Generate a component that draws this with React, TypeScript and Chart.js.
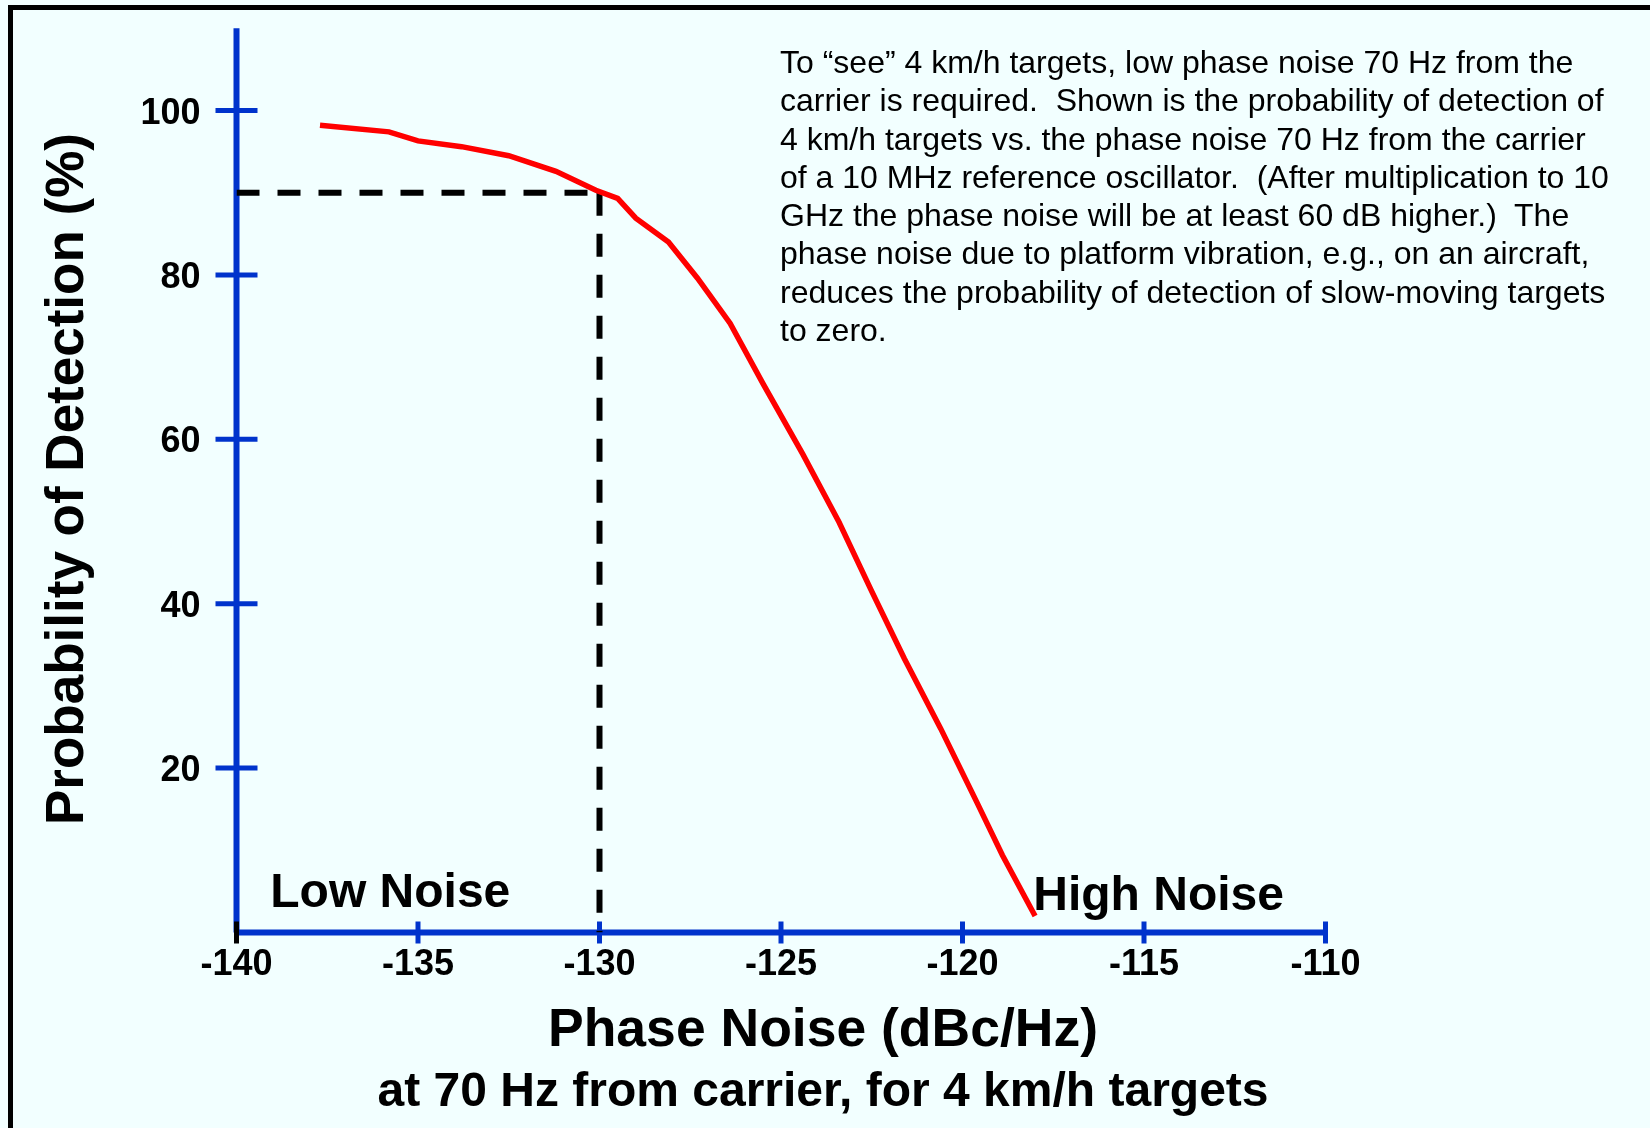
import React, { useEffect, useRef } from "react";
import { Chart, registerables } from "chart.js";

Chart.register(...registerables);

// ---- data ----
const phaseNoise = [-137.7, -135.8, -135.0, -133.8, -132.5, -131.2, -130.1, -129.5, -129.0, -128.1, -127.3, -126.4, -125.5, -124.4, -123.4, -122.5, -121.6, -120.6, -119.6, -118.9, -118.0];
const probDetection = [98.2, 97.4, 96.3, 95.6, 94.5, 92.6, 90.3, 89.3, 86.9, 84.0, 79.6, 74.1, 66.8, 58.2, 49.9, 41.5, 33.3, 24.8, 15.8, 9.4, 2.0];
const thresholdX = -130;
const thresholdY = 90;
const xTicks = [-140, -135, -130, -125, -120, -115, -110];
const yTicks = [20, 40, 60, 80, 100];
const X_MIN = -140;
const X_MAX = -110;
const Y_MIN = 0;
const Y_MAX = 110;

const xTitle = "Phase Noise (dBc/Hz)";
const xSubtitle = "at 70 Hz from carrier, for 4 km/h targets";
const yTitle = "Probability of Detection (%)";
const lowLabel = "Low Noise";
const highLabel = "High Noise";
const noteLines = [
  "To \u201csee\u201d 4 km/h targets, low phase noise 70 Hz from the",
  "carrier is required.  Shown is the probability of detection of",
  "4 km/h targets vs. the phase noise 70 Hz from the carrier",
  "of a 10 MHz reference oscillator.  (After multiplication to 10",
  "GHz the phase noise will be at least 60 dB higher.)  The",
  "phase noise due to platform vibration, e.g., on an aircraft,",
  "reduces the probability of detection of slow-moving targets",
  "to zero.",
];

const BLUE = "#0033cc";
const RED = "#ff0000";
const BG = "#f2ffff";
const FONT = '"Liberation Sans", Arial, Helvetica, sans-serif';

const axesPlugin = {
  id: "customAxes",
  beforeDatasetsDraw(chart: any) {
    const { ctx, scales } = chart;
    const x = scales.x;
    const y = scales.y;
    const x0 = x.getPixelForValue(X_MIN);
    const x1 = x.getPixelForValue(X_MAX);
    const y0 = y.getPixelForValue(Y_MIN);
    const yTop = y.getPixelForValue(Y_MAX);
    ctx.save();
    ctx.lineCap = "butt";
    ctx.strokeStyle = BLUE;
    ctx.lineWidth = 6;
    ctx.beginPath();
    ctx.moveTo(x0, yTop);
    ctx.lineTo(x0, y0);
    ctx.stroke();
    ctx.beginPath();
    ctx.moveTo(x0, y0);
    ctx.lineTo(x1 + 2.5, y0);
    ctx.stroke();

    ctx.lineWidth = 5;
    yTicks.forEach((v) => {
      const py = y.getPixelForValue(v);
      ctx.beginPath();
      ctx.moveTo(x0 - 21, py);
      ctx.lineTo(x0 + 21, py);
      ctx.stroke();
    });
    xTicks.forEach((v) => {
      const px = x.getPixelForValue(v);
      ctx.strokeStyle = v === X_MIN ? "#000000" : BLUE;
      ctx.beginPath();
      ctx.moveTo(px, y0 - 11);
      ctx.lineTo(px, y0 + 11);
      ctx.stroke();
    });

    ctx.fillStyle = "#000000";
    ctx.font = `bold 36px ${FONT}`;
    ctx.textAlign = "right";
    ctx.textBaseline = "alphabetic";
    yTicks.forEach((v) => {
      const py = y.getPixelForValue(v);
      ctx.fillText(String(v), x0 - 36, py + 13);
    });
    ctx.textAlign = "center";
    xTicks.forEach((v) => {
      const px = x.getPixelForValue(v);
      ctx.fillText(String(v), px, y0 + 42.5);
    });
    ctx.restore();
  },
  afterDraw(chart: any) {
    const { ctx, scales } = chart;
    const x = scales.x;
    const y = scales.y;
    ctx.save();
    ctx.fillStyle = "#000000";
    ctx.textBaseline = "alphabetic";

    ctx.font = `bold 48px ${FONT}`;
    ctx.textAlign = "left";
    ctx.fillText(lowLabel, x.getPixelForValue(-139.07), y.getPixelForValue(3.1));
    ctx.fillText(highLabel, x.getPixelForValue(-118.05), y.getPixelForValue(2.74));

    ctx.textAlign = "center";
    ctx.font = `bold 53.5px ${FONT}`;
    ctx.fillText(xTitle, 823, 1046);
    ctx.font = `bold 48px ${FONT}`;
    ctx.fillText(xSubtitle, 823, 1106);

    ctx.save();
    ctx.translate(83, 479);
    ctx.rotate(-Math.PI / 2);
    ctx.font = `bold 53px ${FONT}`;
    ctx.textAlign = "center";
    ctx.fillText(yTitle, 0, 0);
    ctx.restore();

    ctx.restore();
  },
};

export default function App() {
  const canvasRef = useRef<HTMLCanvasElement | null>(null);

  useEffect(() => {
    document.body.style.margin = "0";
    const canvas = canvasRef.current;
    if (!canvas) return;
    const curve = phaseNoise.map((v, i) => ({ x: v, y: probDetection[i] }));
    const hLine = [
      { x: X_MIN, y: thresholdY },
      { x: thresholdX, y: thresholdY },
    ];
    const vLine = [
      { x: thresholdX, y: thresholdY },
      { x: thresholdX, y: Y_MIN },
    ];
    const chart = new Chart(canvas, {
      type: "line",
      data: {
        datasets: [
          {
            label: "Probability of Detection",
            data: curve,
            borderColor: RED,
            borderWidth: 5.5,
            pointRadius: 0,
            tension: 0,
            fill: false,
          },
          {
            label: "Threshold horizontal",
            data: hLine,
            borderColor: "#000000",
            borderWidth: 6,
            borderDash: [23, 18],
            pointRadius: 0,
            fill: false,
          },
          {
            label: "Threshold vertical",
            data: vLine,
            borderColor: "#000000",
            borderWidth: 6,
            borderDash: [23, 18],
            pointRadius: 0,
            fill: false,
          },
        ],
      },
      options: {
        responsive: false,
        animation: false,
        devicePixelRatio: 1,
        layout: {
          padding: { left: 236.5, right: 324.5, top: 28.3, bottom: 195.5 },
        },
        plugins: {
          legend: { display: false },
          tooltip: { enabled: false },
          title: { display: false },
        },
        scales: {
          x: { type: "linear", min: X_MIN, max: X_MAX, display: false },
          y: { type: "linear", min: Y_MIN, max: Y_MAX, display: false },
        },
      },
      plugins: [axesPlugin],
    });
    return () => chart.destroy();
  }, []);

  return (
    <div
      style={{
        position: "absolute",
        left: 0,
        top: 0,
        width: 1650,
        height: 1128,
        background: BG,
        overflow: "hidden",
      }}
    >
      <div
        style={{
          position: "absolute",
          left: 8,
          top: 5,
          width: 1700,
          height: 1200,
          borderLeft: "5px solid #000",
          borderTop: "5px solid #000",
        }}
      />
      <canvas
        ref={canvasRef}
        width={1650}
        height={1128}
        style={{ position: "absolute", left: 0, top: 0, width: 1650, height: 1128 }}
      />
      <div
        style={{
          position: "absolute",
          left: 780,
          top: 43,
          fontFamily: FONT,
          fontSize: 32,
          lineHeight: "38.3px",
          color: "#000",
          whiteSpace: "pre",
        }}
      >
        {noteLines.map((l, i) => (
          <div key={i}>{l}</div>
        ))}
      </div>
    </div>
  );
}
